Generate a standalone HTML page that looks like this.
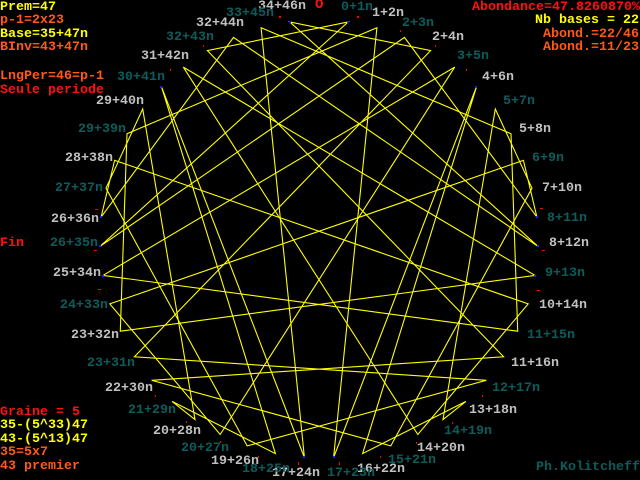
<!DOCTYPE html>
<html><head><meta charset="utf-8"><style>
html,body{margin:0;padding:0;background:#000;}
svg{display:block}
text{font-family:"Liberation Mono",monospace;font-weight:bold;font-size:13.33px;}
.g{fill:#c0c0c0}.t{fill:#0d5c5c}.y{fill:#ffff00}.o{fill:#ff5a14}.r{fill:#ff1010}
</style></head><body>
<svg width="640" height="480" viewBox="0 0 640 480" xmlns="http://www.w3.org/2000/svg">
<rect width="640" height="480" fill="#000"/>
<polygon fill="none" stroke="#ffff00" stroke-width="1.1" points="
348.2,21.9 100.1,246.3 404.5,37.4 536.9,217.1 523.4,160.3 109.8,303.9 220.2,434.5 454.7,67.1 103,275.4 517.7,331.2 511,133.7 261.1,27.8 304.4,457.5 161.5,86.8 275.4,453.6 172.1,401.4 195,419.5 142.7,109 106,188.2 247.2,445.9 486.3,380.3 134.4,356.8 430.6,50.6 289.8,21.9 537.9,246.3 233.5,37.4 101.1,217.1 114.6,160.3 528.2,303.9 417.8,434.5 183.3,67.1 535,275.4 120.3,331.2 127,133.7 376.9,27.8 333.6,457.5 476.5,86.8 362.6,453.6 465.9,401.4 443,419.5 495.3,109 532,188.2 390.8,445.9 151.7,380.3 503.6,356.8 207.4,50.6"/>
<g fill="#2020ff">
<rect x="347" y="21" width="2" height="2"/><rect x="99" y="245" width="2" height="2"/><rect x="536" y="216" width="2" height="2"/><rect x="289" y="21" width="2" height="2"/><rect x="537" y="245" width="2" height="2"/><rect x="100" y="216" width="2" height="2"/><rect x="160" y="86" width="2" height="2"/><rect x="475" y="86" width="2" height="2"/><rect x="303" y="456" width="2" height="2"/><rect x="333" y="456" width="2" height="2"/><rect x="102" y="275" width="2" height="2"/><rect x="534" y="275" width="2" height="2"/>
</g>
<g fill="#ff0000">
<rect x="357" y="16" width="2" height="2"/><rect x="279" y="16" width="2" height="2"/><rect x="540" y="208" width="3" height="1"/><rect x="542" y="250" width="3" height="1"/><rect x="537" y="290" width="3" height="1"/><rect x="298" y="462" width="1" height="3"/><rect x="339" y="462" width="1" height="3"/><rect x="95" y="209" width="3" height="1"/><rect x="94" y="250" width="3" height="1"/><rect x="98" y="289" width="3" height="1"/><rect x="203" y="45" width="1" height="2"/><rect x="170" y="69" width="1" height="2"/><rect x="142" y="99" width="1" height="2"/><rect x="466" y="69" width="1" height="2"/><rect x="435" y="45" width="1" height="2"/><rect x="400" y="30" width="1" height="2"/><rect x="155" y="395" width="1" height="2"/><rect x="186" y="421" width="1" height="2"/><rect x="220" y="441" width="1" height="2"/><rect x="258" y="456" width="1" height="2"/><rect x="380" y="456" width="1" height="2"/><rect x="416" y="442" width="1" height="2"/><rect x="452" y="422" width="1" height="2"/><rect x="482" y="395" width="1" height="2"/>
</g>
<text x="258" y="9" class="g">34+46n</text>
<text x="315" y="8" class="r" style="font-size:14px">O</text>
<text x="341" y="10" class="t">0+1n</text>
<text x="372" y="16" class="g">1+2n</text>
<text x="402" y="26" class="t">2+3n</text>
<text x="432" y="40" class="g">2+4n</text>
<text x="457" y="59" class="t">3+5n</text>
<text x="482" y="80" class="g">4+6n</text>
<text x="503" y="104" class="t">5+7n</text>
<text x="519" y="132" class="g">5+8n</text>
<text x="532" y="161" class="t">6+9n</text>
<text x="542" y="191" class="g">7+10n</text>
<text x="547" y="221" class="t">8+11n</text>
<text x="549" y="246" class="g">8+12n</text>
<text x="545" y="276" class="t">9+13n</text>
<text x="539" y="308" class="g">10+14n</text>
<text x="527" y="338" class="t">11+15n</text>
<text x="511" y="366" class="g">11+16n</text>
<text x="492" y="391" class="t">12+17n</text>
<text x="469" y="413" class="g">13+18n</text>
<text x="444" y="434" class="t">14+19n</text>
<text x="417" y="451" class="g">14+20n</text>
<text x="388" y="463" class="t">15+21n</text>
<text x="357" y="472" class="g">16+22n</text>
<text x="327" y="476" class="t">17+23n</text>
<text x="272" y="476" class="g">17+24n</text>
<text x="242" y="472" class="t">18+25n</text>
<text x="211" y="464" class="g">19+26n</text>
<text x="181" y="451" class="t">20+27n</text>
<text x="153" y="434" class="g">20+28n</text>
<text x="128" y="413" class="t">21+29n</text>
<text x="105" y="391" class="g">22+30n</text>
<text x="87" y="366" class="t">23+31n</text>
<text x="71" y="338" class="g">23+32n</text>
<text x="60" y="308" class="t">24+33n</text>
<text x="53" y="276" class="g">25+34n</text>
<text x="50" y="246" class="t">26+35n</text>
<text x="51" y="222" class="g">26+36n</text>
<text x="55" y="191" class="t">27+37n</text>
<text x="65" y="161" class="g">28+38n</text>
<text x="78" y="132" class="t">29+39n</text>
<text x="96" y="104" class="g">29+40n</text>
<text x="117" y="80" class="t">30+41n</text>
<text x="141" y="59" class="g">31+42n</text>
<text x="166" y="40" class="t">32+43n</text>
<text x="196" y="26" class="g">32+44n</text>
<text x="226" y="16" class="t">33+45n</text>
<text x="0" y="10" class="y">Prem=47</text>
<text x="0" y="23" class="o">p-1=2x23</text>
<text x="0" y="37" class="y">Base=35+47n</text>
<text x="0" y="50" class="o">BInv=43+47n</text>
<text x="0" y="79" class="o">LngPer=46=p-1</text>
<text x="0" y="93" class="r">Seule periode</text>
<text x="0" y="246" class="r">Fin</text>
<text x="0" y="415" class="r">Graine = 5</text>
<text x="0" y="428" class="y">35-(5^33)47</text>
<text x="0" y="442" class="y">43-(5^13)47</text>
<text x="0" y="455" class="o">35=5x7</text>
<text x="0" y="469" class="o">43 premier</text>
<text x="640" y="10" class="r" text-anchor="end">Abondance=47.8260870%</text>
<text x="639" y="23" class="y" text-anchor="end">Nb bases = 22</text>
<text x="639" y="37" class="o" text-anchor="end">Abond.=22/46</text>
<text x="639" y="50" class="o" text-anchor="end">Abond.=11/23</text>
<text x="536" y="470" class="t">Ph.Kolitcheff</text>
</svg>
</body></html>
